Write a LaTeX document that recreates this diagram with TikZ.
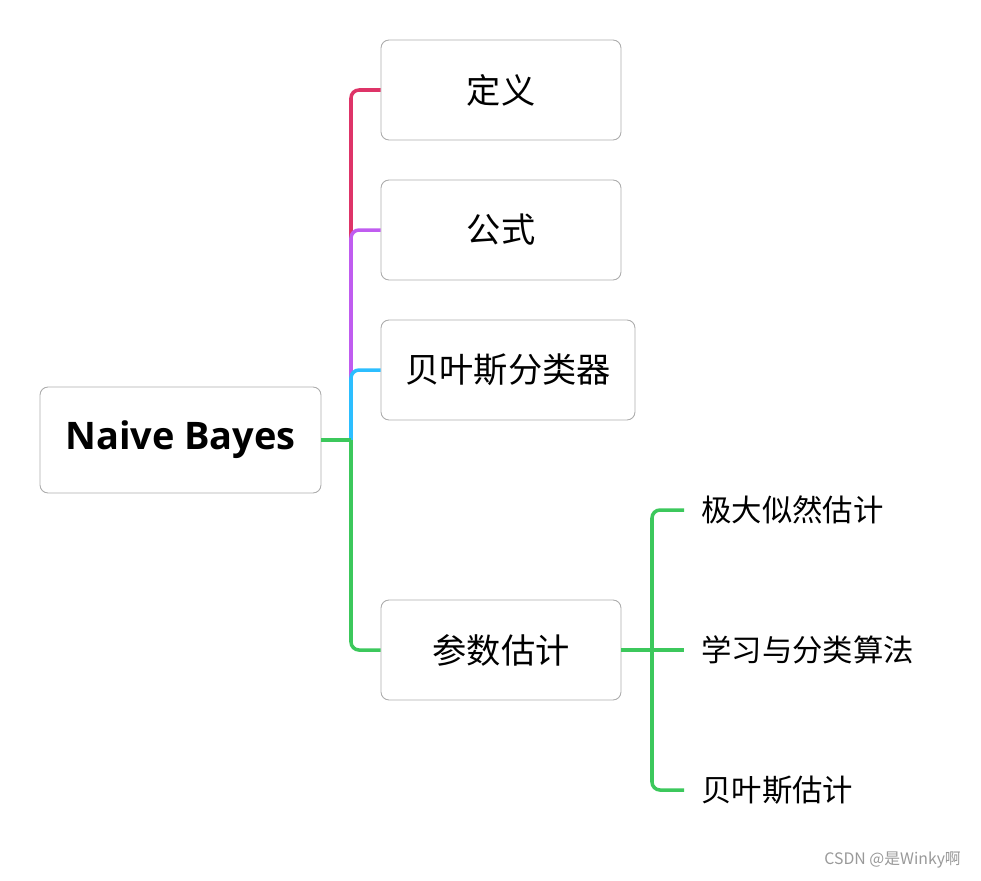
\documentclass[tikz,border=0pt]{standalone}
\usepackage{fontspec}
\setmainfont{Open Sans}
\newfontfamily\cjk{Noto Sans CJK SC}
\usepackage{tikz}
\usetikzlibrary{positioning,calc}

\definecolor{mapred}{RGB}{222,52,104}
\definecolor{mappurple}{RGB}{192,92,240}
\definecolor{mapblue}{RGB}{44,190,255}
\definecolor{mapgreen}{RGB}{60,200,92}
\definecolor{boxgray}{RGB}{172,172,172}

\tikzset{
    topicbox/.style={draw=boxgray, line width=0.5pt, rounded corners=0.16cm,
        minimum width=4.8cm, minimum height=2cm, font=\cjk\fontsize{19.5}{23}\selectfont},
    rootbox/.style={topicbox, minimum width=5.62cm, minimum height=2.12cm,
        font=\bfseries\fontsize{21.6}{26}\selectfont},
    leaftext/.style={anchor=west, inner xsep=0.34cm, font=\cjk\fontsize{17.3}{20}\selectfont},
    branch/.style={line width=2pt, rounded corners=0.16cm}
}

\begin{document}
\begin{tikzpicture}[x=0.02cm, y=-0.02cm]
    \useasboundingbox (0,0) rectangle (981,880);

    % root and first level
    \node[rootbox] (root) at (180.5,440) {Naive Bayes};
    \node[topicbox] (defn) at (501,90) {定义};
    \node[topicbox] (formula) at (501,230) {公式};
    \node[topicbox, minimum width=5.08cm] (classifier) at (508,370) {贝叶斯分类器};
    \node[topicbox] (param) at (501,650) {参数估计};

    % second level
    \node[leaftext] (mle) at (684,510) {极大似然估计};
    \node[leaftext] (algo) at (684,650) {学习与分类算法};
    \node[leaftext] (bayesest) at (684,790) {贝叶斯估计};

    \coordinate (hub) at (351,440);
    \coordinate (hubtwo) at (652,650);

    % branches, drawn bottom to top so each covers the one before
    \draw[branch, mapred] (hub) |- (defn.west);
    \draw[branch, mappurple] (hub) |- (formula.west);
    \draw[branch, mapblue] (hub) |- (classifier.west);
    \draw[branch, mapgreen] (hub) |- (param.west);
    \draw[line width=2pt, mapgreen] (root.east) -- (hub);

    \draw[line width=2pt, mapgreen] (param.east) -- (hubtwo);
    \draw[branch, mapgreen] (hubtwo) |- (mle.west);
    \draw[branch, mapgreen] (hubtwo) |- (bayesest.west);
    \draw[line width=2pt, mapgreen] (hubtwo) -- (algo.west);

    % watermark
    \node[anchor=east, text=gray!80, font=\cjk\fontsize{9}{11}\selectfont] (mark) at (967,860) {CSDN @是Winky啊};
\end{tikzpicture}
\end{document}
